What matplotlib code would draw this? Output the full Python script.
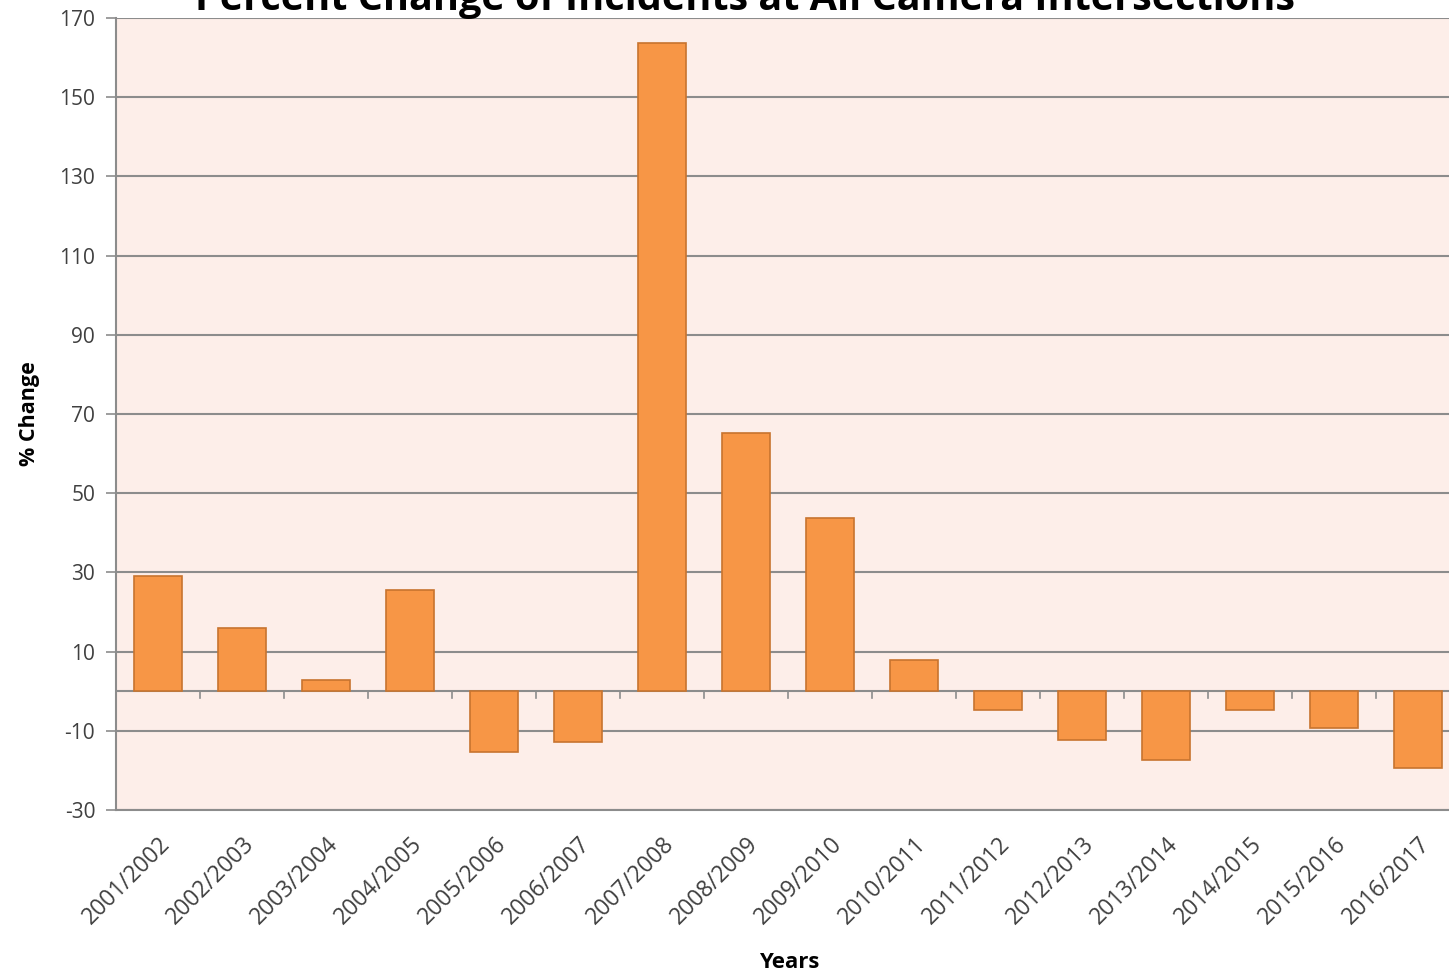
import numpy as np
import matplotlib.pyplot as plt

# percent change by year pair
years = ['2001/2002', '2002/2003', '2003/2004', '2004/2005', '2005/2006',
         '2006/2007', '2007/2008', '2008/2009', '2009/2010', '2010/2011',
         '2011/2012', '2012/2013', '2013/2014', '2014/2015', '2015/2016',
         '2016/2017']
pct_change = [29.1, 16.0, 2.8, 25.6, -15.4, -12.8, 163.7, 65.2, 43.7, 7.9,
              -4.7, -12.3, -17.4, -4.7, -9.3, -19.4]
y_ticks = [-30, -10, 10, 30, 50, 70, 90, 110, 130, 150, 170]

plt.rcParams['font.family'] = ['Open Sans', 'DejaVu Sans']

fig = plt.figure(figsize=(14.49, 9.77), dpi=100)
ax = fig.add_axes([116 / 1449, 1 - 810 / 977, 1344 / 1449, 792 / 977])
ax.set_facecolor('#FDEEE9')

x = np.arange(len(years))
ax.bar(x, pct_change, width=0.58, color='#F79646', edgecolor='#C8742F',
       linewidth=1.2, zorder=3)

ax.set_ylim(-30, 170)
ax.set_xlim(-0.5, len(years) - 0.5)
ax.set_yticks(y_ticks)
ax.set_yticklabels([str(t) for t in y_ticks], fontsize=15, color='#404040')
ax.yaxis.grid(True, color='#8C8C8C', linewidth=1.5, zorder=1)
ax.tick_params(axis='y', length=7, width=1.2, color='#8C8C8C', pad=8)

# zero line with category tick marks
ax.axhline(0, color='#8C8C8C', linewidth=1.5, zorder=2)
for b in np.arange(0.5, len(years) - 1, 1.0):
    ax.plot([b, b], [0, -1.6], color='#8C8C8C', linewidth=1.2, zorder=2)

ax.set_xticks(x)
ax.set_xticklabels(years, rotation=45, ha='right', rotation_mode='anchor',
                   fontsize=16.5, color='#404040')
ax.tick_params(axis='x', length=0, pad=16)

for side in ['top', 'right']:
    ax.spines[side].set_visible(False)
for side in ['left', 'bottom']:
    ax.spines[side].set_color('#8C8C8C')
    ax.spines[side].set_linewidth(1.5)

ax.set_ylabel('% Change', fontsize=15.5, fontweight='bold', labelpad=14)
fig.text(789 / 1449, 1 - 962 / 977, 'Years', fontsize=16, fontweight='bold',
         ha='center', va='center')
fig.text(745 / 1449, 1 - 10 / 977,
         'Percent Change of Incidents at All Camera Intersections',
         fontsize=28.5, fontweight='bold', ha='center', va='baseline')

fig.savefig('out.png', dpi=100, facecolor='white')
